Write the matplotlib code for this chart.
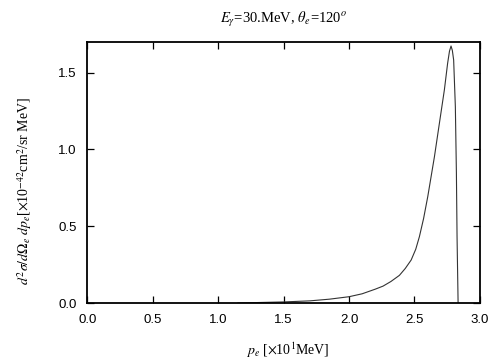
import numpy as np
import matplotlib
matplotlib.use("Agg")
import matplotlib.pyplot as plt

plt.rcParams['mathtext.fontset'] = 'stix'

# curve (p_e in 10 MeV, cross section in 1e-42 cm^2/sr MeV)
p_e = [1.15, 1.3, 1.5, 1.7, 1.85, 2.0, 2.1, 2.2, 2.26, 2.32, 2.385, 2.43,
       2.475, 2.51, 2.538, 2.57, 2.602, 2.653, 2.691, 2.729, 2.754, 2.768,
       2.780, 2.790, 2.800, 2.813, 2.821, 2.826, 2.834]
xsec = [0.0, 0.003, 0.007, 0.014, 0.025, 0.041, 0.06, 0.09, 0.11, 0.14, 0.18,
        0.225, 0.28, 0.35, 0.432, 0.55, 0.693, 0.953, 1.171, 1.388, 1.562, 1.64,
        1.674, 1.645, 1.583, 1.279, 0.847, 0.43, 0.0]

xticks = [0.0, 0.5, 1.0, 1.5, 2.0, 2.5, 3.0]
yticks = [0.0, 0.5, 1.0, 1.5]

fig = plt.figure(figsize=(5.04, 3.6), dpi=100)
ax = fig.add_axes([0.1736, 0.1583, 0.7784, 0.725])

ax.plot(p_e, xsec, color='#333333', lw=0.8)

ax.set_xlim(0, 3.0)
ax.set_ylim(0, 1.7)
ax.set_xticks(xticks)
ax.set_yticks(yticks)
ax.set_xticklabels(['%.1f' % t for t in xticks], family='Liberation Sans', fontsize=9.5)
ax.set_yticklabels(['%.1f' % t for t in yticks], family='Liberation Sans', fontsize=9.5)
ax.tick_params(direction='in', length=5, width=0.9, top=True, right=True, pad=8)
for s in ax.spines.values():
    s.set_linewidth(1.3)

ax.set_title(r'$E_\gamma$=30.MeV, $\theta_e$=120$^o$', family='Liberation Serif',
             fontsize=10.5, pad=14)
ax.set_xlabel(r'$p_e$ [$\times$10$^1$MeV]', family='Liberation Serif', fontsize=10,
              va='center')
ax.xaxis.set_label_coords(0.51, -0.18)
ax.set_ylabel(r'$d^2\sigma/d\Omega_e\ dp_e$[$\times$10$^{-42}$cm$^2$/sr MeV]',
              family='Liberation Serif', fontsize=10, va='center')
ax.yaxis.set_label_coords(-0.16, 0.43)

fig.savefig('out.png', dpi=100)
